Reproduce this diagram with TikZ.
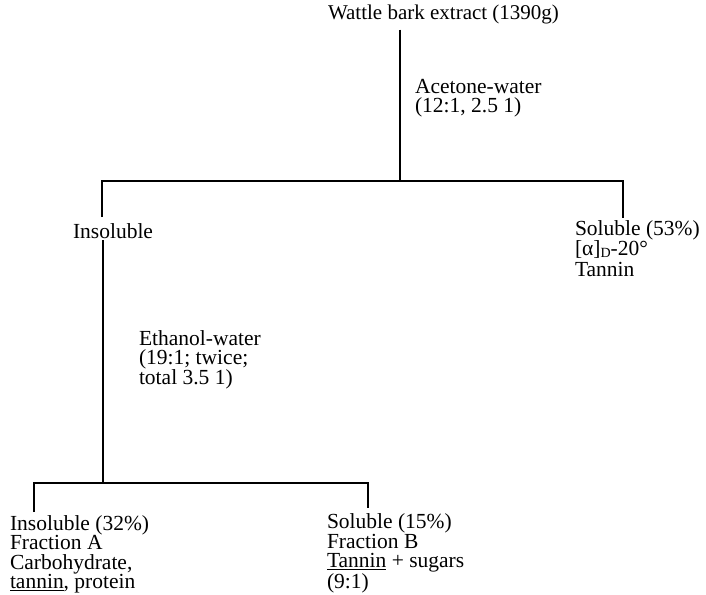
\documentclass[tikz,border=0pt]{standalone}
\usepackage{fontspec}
\setmainfont{Liberation Serif}
\newcommand{\subD}{\raisebox{-2pt}{\fontsize{14}{14}\selectfont D}}
\begin{document}
\begin{tikzpicture}[x=1pt,y=1pt,
  txt/.style={inner sep=0pt, outer sep=0pt, align=left, anchor=base west,
    font=\fontsize{21.5}{19.5}\selectfont},
  ln/.style={line width=1.7pt}]
\useasboundingbox (0,0) rectangle (706,-594);
% texts (anchor = baseline of the last line)
\node[txt, font=\fontsize{21}{19.5}\selectfont] (top) at (328,-20) {Wattle bark extract (1390g)};
\node[txt] (acet) at (415,-112.5) {Acetone-water\\(12:1, 2.5 1)};
\node[txt] (insol) at (73,-238) {Insoluble};
\node[txt, font=\fontsize{21.5}{20.5}\selectfont] (sol) at (575,-276) {Soluble (53\%)\\{[α]}\subD-20°\\Tannin};
\node[txt] (eth) at (139,-384) {Ethanol-water\\(19:1; twice;\\total 3.5 1)};
\node[txt] (fa) at (10,-588.5) {Insoluble (32\%)\\Fraction A\\Carbohydrate,\\\underline{tannin}, protein};
\node[txt] (fb) at (327,-588.5) {Soluble (15\%)\\Fraction B\\\underline{Tannin} + sugars\\(9:1)};
% junctions
\coordinate (j1) at (400,-181);
\coordinate (hl) at (102,-181);
\coordinate (hr) at (623,-181);
\coordinate (bm) at (103,-483);
\coordinate (bl) at (34,-483);
\coordinate (br) at (368,-483);
% connectors
\draw[ln, shorten <=5pt] (top.south -| j1) -- (j1);
\draw[ln, shorten <=6pt, shorten >=2pt] (insol.north -| hl) -- (hl) -- (hr) -- (sol.north -| hr);
\draw[ln, shorten <=2pt] (insol.south -| bm) -- (bm);
\draw[ln, shorten <=3pt, shorten >=6pt] (fa.north -| bl) -- (bl) -- (br) -- (fb.north -| br);
\end{tikzpicture}
\end{document}
